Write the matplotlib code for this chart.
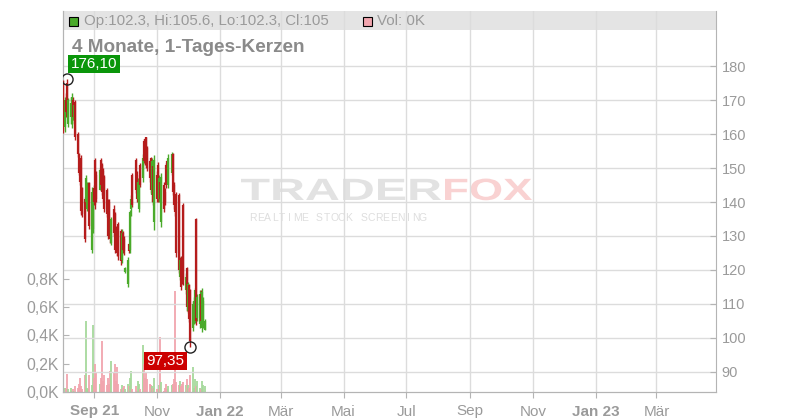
import datetime as dt

import matplotlib
matplotlib.use("Agg")
import matplotlib.pyplot as plt
import matplotlib.dates as mdates
import numpy as np
import pandas as pd
from matplotlib.patches import Rectangle, PathPatch
from matplotlib.textpath import TextPath
from matplotlib.font_manager import FontProperties
from matplotlib.transforms import Affine2D, IdentityTransform

plt.rcParams['font.family'] = ['Liberation Sans', 'DejaVu Sans']

# daily candles, 2021-08-02 .. 2021-12-17 (100 trading days)
days = pd.bdate_range('2021-08-02', '2021-12-17')

opens = [
    175.5, 162, 170, 175, 163,
    165, 163, 170, 164, 169.5,
    160, 154, 150, 153, 144,
    141, 140, 138, 140.5, 145.5,
    126, 132, 144, 152.5, 148,
    143.5, 152.5, 151, 149, 147.5,
    143.5, 140.5, 140, 134, 128,
    138, 136.5, 132, 131, 133.5,
    131.5, 123, 131, 129, 119.5,
    116, 127.5, 126, 138, 148,
    152.5, 148, 141, 138, 151,
    147, 158, 158.5, 159, 156,
    152, 153, 142, 150.5, 134,
    148, 151, 141, 146, 134,
    145, 143, 151, 152, 145,
    148.5, 154, 145, 141, 142.5,
    142, 118, 123.5, 121, 139,
    114, 120.5, 108, 115.5, 114,
    103, 105, 105, 135, 106,
    104, 113, 103, 104, 102.3]

highs = [
    175.8, 171, 172, 176.1, 170.6,
    171, 172, 171, 169, 170,
    160.6, 154.5, 152, 153.8, 144.4,
    141.5, 148, 146, 146, 146,
    144.4, 143, 145, 153, 149,
    150, 153, 151.5, 150, 148,
    144, 141, 141, 135, 135.6,
    139, 137, 133, 132, 134,
    132, 132, 131.5, 130, 121,
    123.8, 128, 137.6, 142, 148.5,
    153, 149, 147, 147, 151.5,
    154, 158.5, 158.8, 159.2, 156.5,
    152.5, 153.2, 153, 151, 153.8,
    149, 151.8, 148, 147, 148.5,
    146, 144, 151.5, 152.5, 154,
    154.7, 154.5, 146, 142, 143,
    142.6, 123.8, 124, 122, 139.7,
    119, 121, 116.5, 116, 114.5,
    111, 112, 114.7, 135.3, 113,
    114, 114, 114.7, 112, 105.6]

lows = [
    160.3, 160.5, 165, 166.6, 162,
    163, 161.8, 164, 163, 158.2,
    153.2, 148, 145, 136.2, 135.6,
    128.2, 139.5, 137.5, 139, 132,
    125, 131, 139, 138, 140,
    143.5, 144, 142, 140, 137,
    135.6, 129, 131, 128, 127.4,
    130, 125, 126, 124, 123,
    121.5, 122, 125, 124.5, 119,
    115, 125, 125, 136, 138.5,
    142.6, 140, 140, 137, 144.5,
    146, 151.5, 151, 150, 149,
    146, 142.6, 140, 139, 131.8,
    140, 140, 140, 140, 132.6,
    137, 139, 144, 146, 144,
    148, 142, 138, 136, 123.8,
    119, 117, 114, 116, 115.6,
    113, 108, 107.4, 104.7, 97.35,
    102, 104, 104.4, 103.8, 105,
    103, 104, 101.8, 103, 102.3]

closes = [
    161, 170, 166.5, 167, 170,
    169, 171, 165, 168.5, 159,
    154, 148.5, 146, 137.5, 136.5,
    129, 147, 145, 145, 133,
    143, 142, 140, 139, 141,
    149.5, 145, 143, 141, 138,
    136.5, 130, 132, 129, 135,
    131, 126, 127, 125, 124,
    122.5, 131, 126, 125.5, 120.5,
    123, 125.5, 137, 141, 139,
    143.5, 141, 146, 146, 145,
    153, 152, 153, 151, 150,
    147, 143.5, 152, 140, 152.5,
    141, 141, 147, 141, 147.5,
    138, 140, 145, 147, 153,
    154, 143, 139, 137, 125,
    120, 123, 115, 117, 117,
    118, 109, 116, 105.5, 99,
    110, 111, 114, 105, 112,
    113, 105, 113.5, 111, 105]

# volume in thousands
volumes = [
    0.29, 0.03, 0.02, 0.13, 0.02,
    0.03, 0.01, 0.02, 0.01, 0.04,
    0.03, 0.06, 0.10, 0.04, 0.02,
    0.12, 0.50, 0.03, 0.02, 0.12,
    0.05, 0.47, 0.10, 0.20, 0.14,
    0.06, 0.10, 0.36, 0.08, 0.12,
    0.05, 0.10, 0.06, 0.15, 0.22,
    0.14, 0.20, 0.08, 0.18, 0.06,
    0.02, 0.05, 0.03, 0.04, 0.02,
    0.06, 0.04, 0.10, 0.15, 0.02,
    0.04, 0.01, 0.08, 0.06, 0.02,
    0.33, 0.20, 0.10, 0.14, 0.09,
    0.06, 0.05, 0.04, 0.03, 0.10,
    0.02, 0.02, 0.05, 0.39, 0.07,
    0.01, 0.03, 0.06, 0.02, 0.04,
    0.05, 0.06, 0.09, 0.71, 0.07,
    0.05, 0.08, 0.04, 0.06, 0.07,
    0.05, 0.09, 0.05, 0.03, 0.12,
    0.18, 0.03, 0.09, 0.04, 0.08,
    0.03, 0.02, 0.08, 0.05, 0.04]

price_ticks = [90, 100, 110, 120, 130, 140, 150, 160, 170, 180]
vol_ticks = [0.0, 0.2, 0.4, 0.6, 0.8]
month_ticks = ['2021-09-01', '2021-11-01', '2022-01-01', '2022-03-01', '2022-05-01',
               '2022-07-01', '2022-09-01', '2022-11-01', '2023-01-01', '2023-03-01']
month_labels = ['Sep 21', 'Nov', 'Jan 22', 'Mär', 'Mai', 'Jul', 'Sep', 'Nov', 'Jan 23', 'Mär']

GREEN = '#4aaa2a'
RED = '#b51c1c'
GRAY_TXT = '#9a9a9a'
AXIS = '#b4b4b4'
H = 420  # figure height in px

fig = plt.figure(figsize=(8, 4.2), dpi=100)
ax_v = fig.add_axes([63 / 800, 28 / 420, 653 / 800, 381 / 420])
ax_p = ax_v.twinx()

x = mdates.date2num(days.to_pydatetime())
o = np.array(opens)
h = np.array(highs)
l = np.array(lows)
c = np.array(closes)
up = c >= o
cols = np.where(up, GREEN, RED)

# volume
vcols = np.where(up, '#a6d99c', '#f1a5ae')
ax_v.vlines(x, 0, volumes, colors=vcols, linewidth=1.3, zorder=2)

# candles
ax_p.vlines(x, l, h, colors=cols, linewidth=1.0, zorder=3)
ax_p.vlines(x, np.minimum(o, c), np.maximum(o, c), colors=cols, linewidth=1.6, zorder=3)

# limits
x0 = mdates.date2num(dt.datetime(2021, 8, 1, 13))
x1 = mdates.date2num(dt.datetime(2023, 4, 27, 19))
ax_v.set_xlim(x0, x1)
ax_v.set_ylim(0, 2.69)
ax_p.set_ylim(84.1, 196.2)

# grid
xt = [mdates.date2num(pd.Timestamp(m).to_pydatetime()) for m in month_ticks]
ax_v.set_xticks(xt)
ax_v.set_xticklabels(month_labels)
for t, lab in zip(ax_v.get_xticklabels(), month_labels):
    if lab[-2:].isdigit():
        t.set_fontweight('bold')
for v in xt:
    ax_v.axvline(v, color='#dcdcdc', linewidth=1, zorder=1)
for p in price_ticks:
    ax_p.axhline(p, color='#dcdcdc', linewidth=1, zorder=1)

ax_p.set_yticks(price_ticks)
ax_p.set_yticklabels([str(p) for p in price_ticks])
ax_v.set_yticks(vol_ticks)
ax_v.set_yticklabels([f'{v:.1f}K'.replace('.', ',') for v in vol_ticks])

ax_v.tick_params(axis='x', direction='out', length=4, color=AXIS, labelcolor=GRAY_TXT,
                 labelsize=11, pad=5)
ax_v.tick_params(axis='y', direction='in', length=4, color=AXIS, labelcolor=GRAY_TXT,
                 labelsize=11.3, pad=3)
ax_p.tick_params(axis='y', direction='in', length=4, color=AXIS, labelcolor=GRAY_TXT,
                 labelsize=10.5, pad=4)
for t in ax_v.get_xticklabels():
    t.set_family(['Liberation Sans Narrow', 'Liberation Sans', 'DejaVu Sans'])

for a in (ax_v, ax_p):
    a.spines['top'].set_visible(False)
    for s in ('left', 'right', 'bottom'):
        a.spines[s].set_color(AXIS)
ax_v.spines['right'].set_visible(False)

# header band with legend squares
ax_v.add_patch(Rectangle((0, 1 - 19 / 381), 1, 19 / 381, transform=ax_v.transAxes,
                         facecolor='#e4e4e4', edgecolor='none', zorder=0))
fig.patches.append(Rectangle((69 / 800, 1 - 26 / 420), 9 / 800, 9 / 420, transform=fig.transFigure,
                             facecolor=GREEN, edgecolor='black', linewidth=0.8))
fig.patches.append(Rectangle((363 / 800, 1 - 26 / 420), 9 / 800, 9 / 420, transform=fig.transFigure,
                             facecolor='#f1a5ae', edgecolor='black', linewidth=0.8))
t_ohlc = fig.text(84 / 800, 1 - 21 / 420, 'Op:102.3, Hi:105.6, Lo:102.3, Cl:105',
                  color=GRAY_TXT, fontsize=10.7, va='center', ha='left')
t_vol = fig.text(377 / 800, 1 - 21 / 420, 'Vol: 0K', color=GRAY_TXT, fontsize=10.7,
                 va='center', ha='left')
t_title = fig.text(72 / 800, 1 - 47 / 420, '4 Monate, 1-Tages-Kerzen', color='#8a8a8a',
                   fontsize=13.6, fontweight='bold', va='center', ha='left')

# scale header texts to the widths measured on the reference
renderer = fig.canvas.get_renderer()
for t, target in ((t_ohlc, 244), (t_vol, 48), (t_title, 233)):
    w = t.get_window_extent(renderer).width
    t.set_fontsize(t.get_fontsize() * target / w)


# watermark: horizontally stretched bold text drawn in pixel coordinates
def stretched(text, left, right, baseline, cap, color):
    prop = FontProperties(family='Liberation Sans', weight='bold')
    tp = TextPath((0, 0), text, size=cap / 0.716, prop=prop)
    ext = tp.get_extents()
    sx = (right - left) / ext.width
    tr = Affine2D().translate(-ext.x0, 0).scale(sx, 1).translate(left, H - baseline)
    patch = PathPatch(tr.transform_path(tp), facecolor=color, edgecolor='none',
                      transform=IdentityTransform(), zorder=0.5, clip_on=False)
    ax_v.add_patch(patch)


stretched('TRADER', 241, 441, 200, 22, '#e2e2e2')
stretched('FOX', 445, 532, 200, 22, '#f9d2d2')
for k, ch in enumerate('REALTIME STOCK SCREENING'):
    px = 249 + 7.4 * (k + 0.5)
    ax_v.text((px - 63) / 653, (392 - 218) / 381, ch, transform=ax_v.transAxes, color='#dedede',
              fontsize=7.5, ha='center', va='center', zorder=0.5)

# high / low markers
i_hi = int(np.argmax(h))
i_lo = int(np.argmin(l))
ax_p.plot([x[i_hi], x[i_lo]], [h[i_hi], l[i_lo]], 'o', markersize=8, markerfacecolor='none',
          markeredgecolor='#222222', markeredgewidth=1, zorder=5)
ax_p.annotate(f'{h[i_hi]:.2f}'.replace('.', ','), (x[i_hi], h[i_hi]), xytext=(3, 6),
              textcoords='offset points', color='white', fontsize=11, ha='left', va='bottom',
              bbox=dict(boxstyle='square,pad=0.15', facecolor='#0a960a', edgecolor='none'),
              zorder=6)
ax_p.annotate(f'{l[i_lo]:.2f}'.replace('.', ','), (x[i_lo], l[i_lo]), xytext=(-4, -5),
              textcoords='offset points', color='white', fontsize=11, ha='right', va='top',
              bbox=dict(boxstyle='square,pad=0.15', facecolor='#cc0000', edgecolor='none'),
              zorder=6)

fig.savefig('out.png', dpi=100)
